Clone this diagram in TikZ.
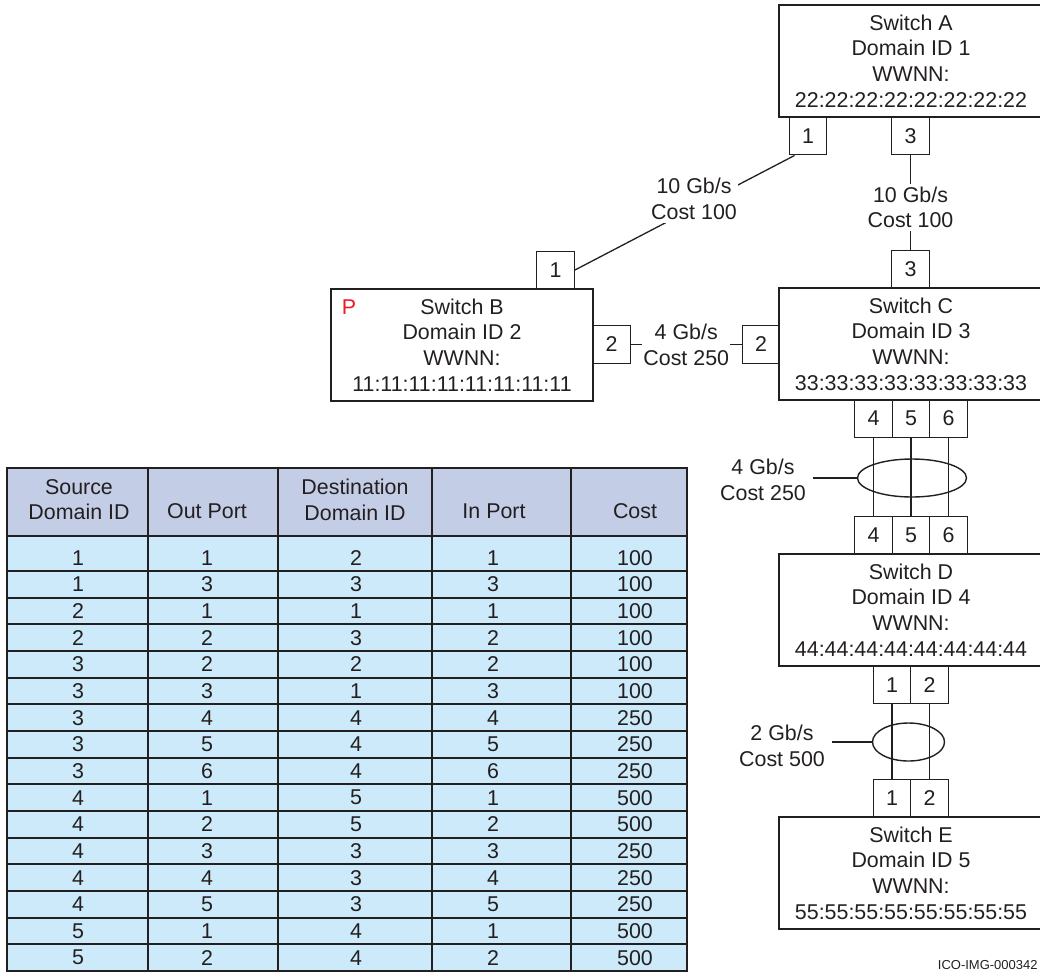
\documentclass[tikz,border=0pt]{standalone}
\usepackage{fontspec}
\setmainfont{Liberation Sans}
\usetikzlibrary{shapes.geometric}
\definecolor{ink}{RGB}{35,31,32}
\definecolor{hdrfill}{RGB}{196,205,230}
\definecolor{rowfill}{RGB}{204,234,250}
\definecolor{flagred}{RGB}{237,28,36}

\begin{document}
\begin{tikzpicture}[x=0.5pt,y=-0.5pt,
  every node/.style={font=\fontsize{10.7}{12.85}\selectfont, text=ink},
  switch/.style={draw=ink, line width=0.8pt, minimum width=132pt, minimum height=56pt, inner sep=0pt, align=center},
  port/.style={draw=ink, line width=0.7pt, minimum size=18.75pt, inner sep=0pt},
  link/.style={draw=ink, line width=0.65pt},
  lbl/.style={fill=white, align=center, inner xsep=0.5pt, inner ysep=1.5pt},
  trunk/.style={draw=ink, line width=0.7pt, ellipse, inner sep=0pt},
  grid/.style={draw=ink, line width=1pt}]
\useasboundingbox (0,0) rectangle (1040,976);

% switches
\node[switch] (swA) at (911,61) {Switch A\\Domain ID 1\\WWNN:\\22:22:22:22:22:22:22:22};
\node[switch, minimum width=131pt] (swB) at (462,345) {Switch B\\Domain ID 2\\WWNN:\\11:11:11:11:11:11:11:11};
\node[switch] (swC) at (911,344) {Switch C\\Domain ID 3\\WWNN:\\33:33:33:33:33:33:33:33};
\node[switch] (swD) at (911,610) {Switch D\\Domain ID 4\\WWNN:\\44:44:44:44:44:44:44:44};
\node[switch] (swE) at (911,873) {Switch E\\Domain ID 5\\WWNN:\\55:55:55:55:55:55:55:55};
\node[text=flagred] (flagP) at (349,307) {P};

% ports
\node[port] (a1) at (808,136) {1};
\node[port] (a3) at (910.5,136) {3};
\node[port] (b1) at (555.5,270) {1};
\node[port] (b2) at (611.5,344.5) {2};
\node[port] (c2) at (761,344.5) {2};
\node[port] (c3) at (910.5,269.5) {3};
\node[port] (c4) at (873.5,418.5) {4};
\node[port] (c5) at (911,418.5) {5};
\node[port] (c6) at (948.5,418.5) {6};
\node[port] (d4) at (873.5,535.5) {4};
\node[port] (d5) at (911,535.5) {5};
\node[port] (d6) at (948.5,535.5) {6};
\node[port] (d1) at (892,685) {1};
\node[port] (d2) at (929.5,685) {2};
\node[port] (e1) at (892,798) {1};
\node[port] (e2) at (929.5,798) {2};

% links
\draw[link] (b1.east) -- ([xshift=3pt]a1.south west);
\node[lbl] (lab1) at (694,199) {10 Gb/s\\Cost 100};
\draw[link] (a3) -- node[lbl, pos=0.55] (lab2) {10 Gb/s\\Cost 100} (c3);
\draw[link] (b2) -- node[lbl] (lab3) {4 Gb/s\\Cost 250} (c2);
\draw[link] (c4) -- (d4);
\draw[link] (c5) -- (d5);
\draw[link] (c6) -- (d6);
\draw[link] (d1) -- (e1);
\draw[link] (d2) -- (e2);
\node[trunk, minimum width=54.5pt, minimum height=19pt] (trk1) at (912,478) {};
\node[trunk, minimum width=36pt, minimum height=19pt] (trk2) at (908.5,742) {};
\node[align=center] (lab4) at (763,480) {4 Gb/s\\Cost 250};
\node[align=center] (lab5) at (782,746) {2 Gb/s\\Cost 500};
\draw[link] (trk1.west -| lab4.east) -- (trk1.west);
\draw[link] (trk2.west -| lab5.east) -- (trk2.west);

% table
\fill[hdrfill] (7,468) rectangle (687,536);
\fill[rowfill] (7,536) rectangle (687,971);
\draw[grid] (7,536) -- (687,536);
\foreach \k in {0,...,14}
  \draw[grid] (7,{571+\k*26.667}) -- (687,{571+\k*26.667});
\foreach \x in {148,278,432,571}
  \draw[grid] (\x,468) -- (\x,971);
\draw[grid] (7,468) rectangle (687,971);
\node[align=center] (h1) at (79,499.5) {Source\\Domain ID};
\node (h2) at (207,511) {Out Port};
\node[align=center] (h3) at (355,499.5) {Destination\\Domain ID};
\node (h4) at (494,511) {In Port};
\node (h5) at (635,511) {Cost};
\foreach \s/\o/\d/\p/\c [count=\r] in {1/1/2/1/100, 1/3/3/3/100, 2/1/1/1/100, 2/2/3/2/100,
    3/2/2/2/100, 3/3/1/3/100, 3/4/4/4/250, 3/5/4/5/250, 3/6/4/6/250, 4/1/5/1/500,
    4/2/5/2/500, 4/3/3/3/250, 4/4/3/4/250, 4/5/3/5/250, 5/1/4/1/500, 5/2/4/2/500}{
  \pgfmathsetmacro\ry{557.7+(\r-1)*26.667}
  \node (src\r) at (78,\ry) {\s};
  \node (out\r) at (207,\ry) {\o};
  \node (dst\r) at (356,\ry) {\d};
  \node (inp\r) at (493,\ry) {\p};
  \node (cst\r) at (635,\ry) {\c};
}

\node[anchor=east, inner sep=1pt, font=\fontsize{6.5}{7.5}\selectfont] (imgid) at (1040,965) {ICO-IMG-000342};
\end{tikzpicture}
\end{document}
